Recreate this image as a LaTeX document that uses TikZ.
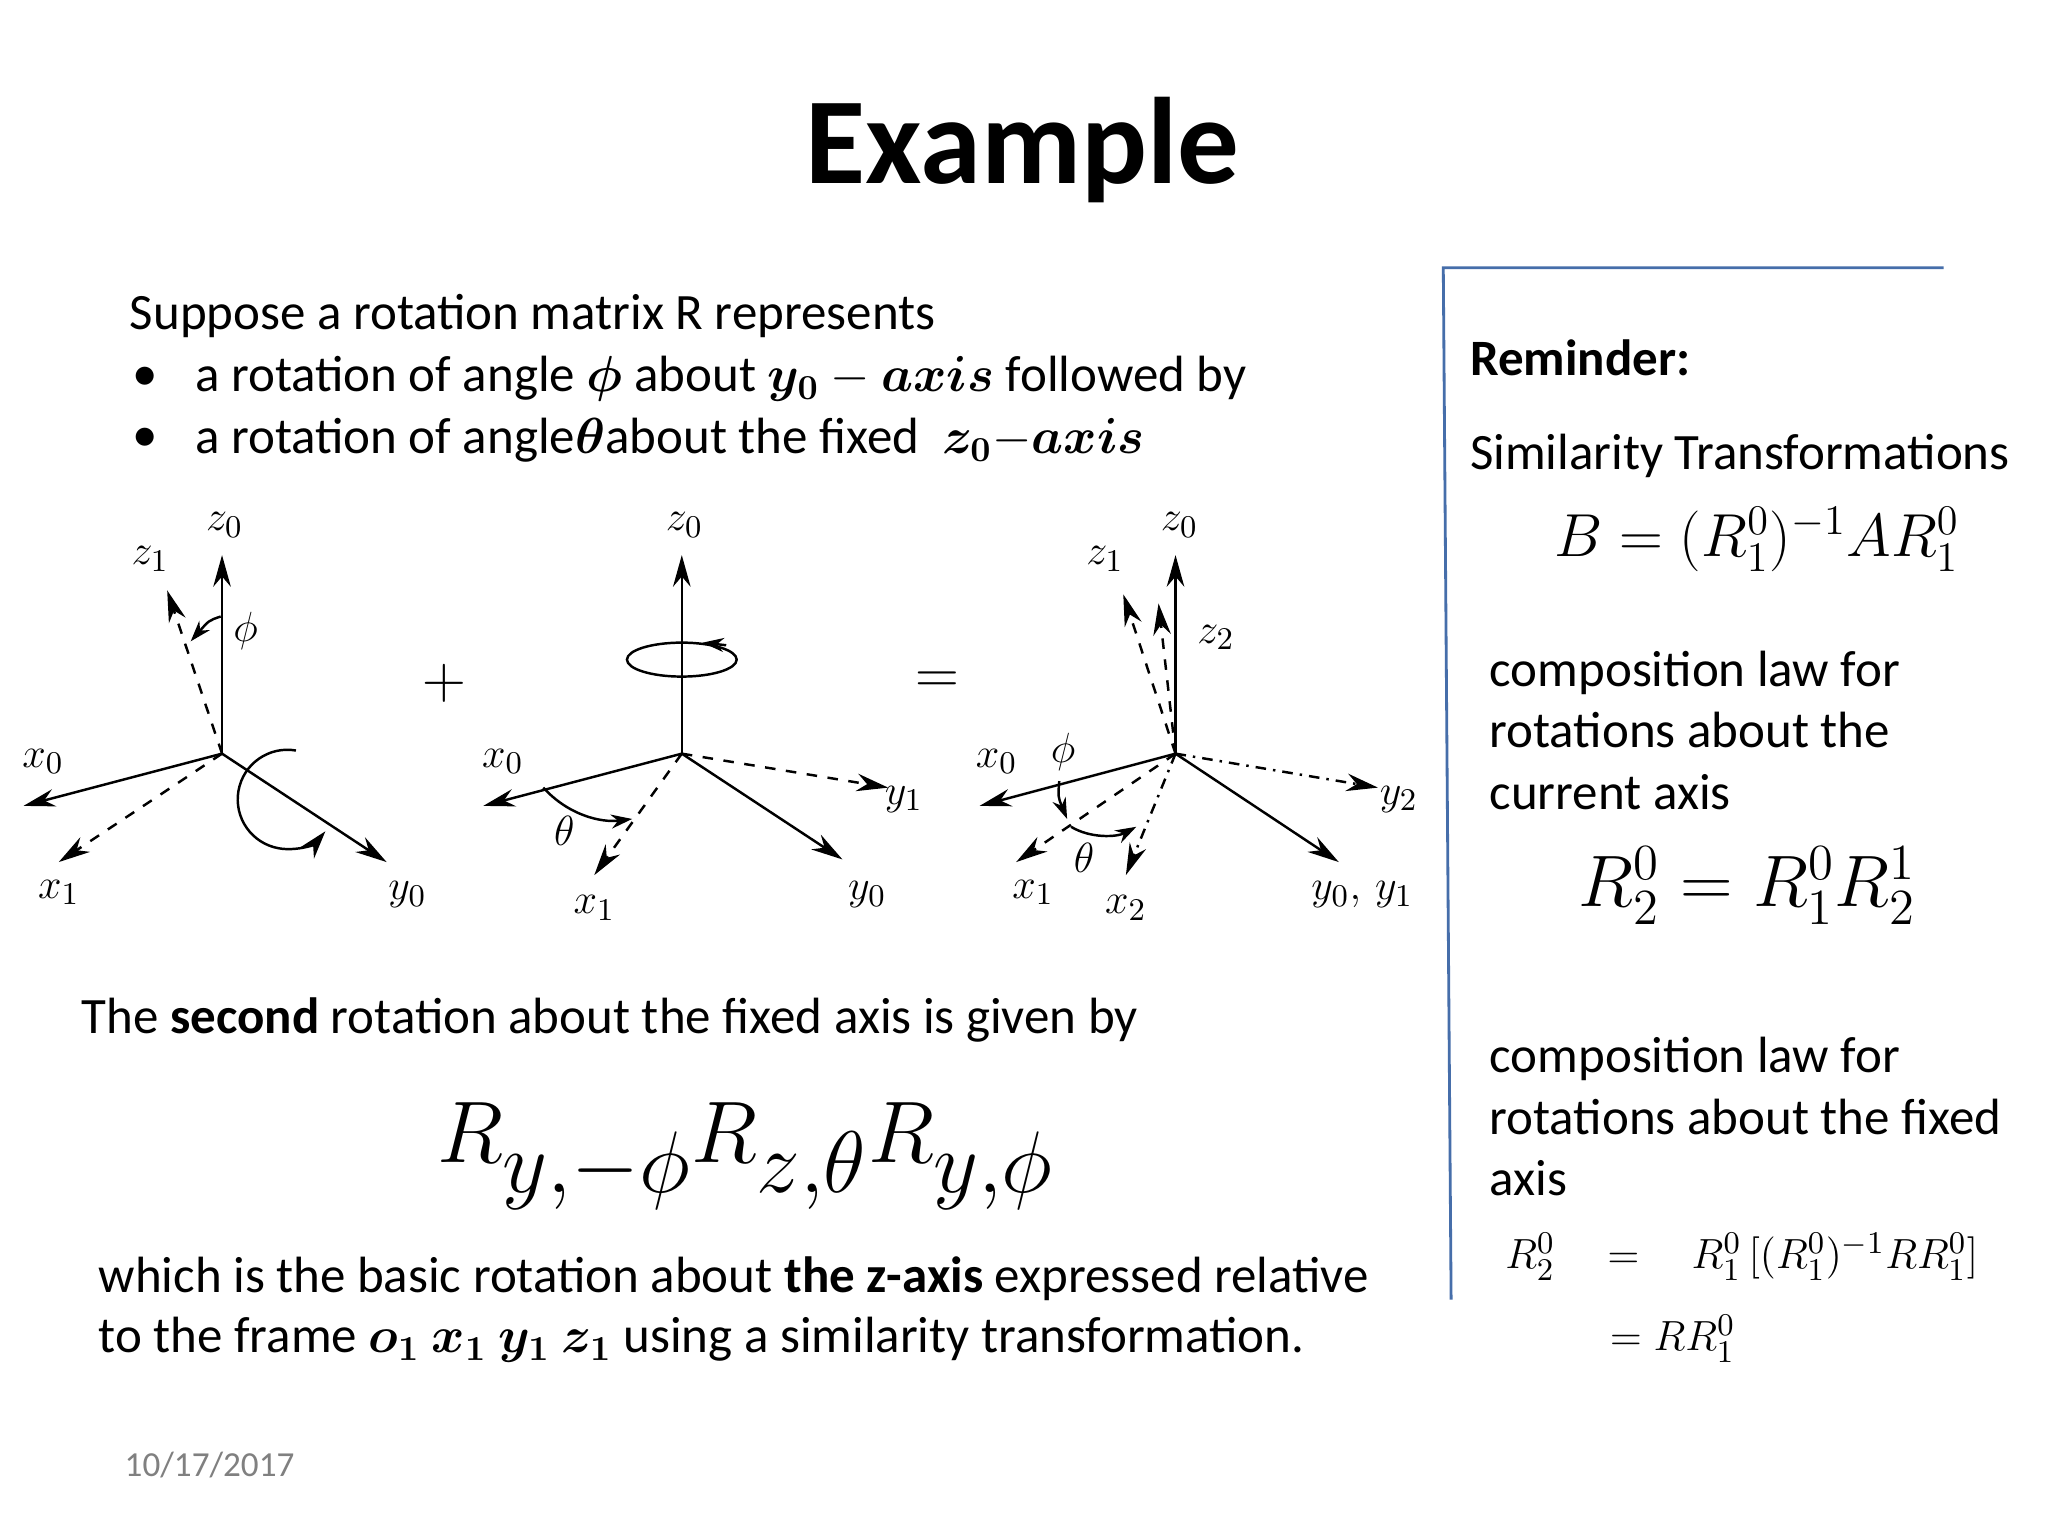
\documentclass[tikz,border=0pt]{standalone}
\usepackage{fontspec}
\usepackage{amsmath}
\setmainfont{Carlito}
\usetikzlibrary{arrows.meta}
\tikzset{
  ax/.style={-{Stealth[length=9pt,width=5pt]},line width=0.7pt},
  dax/.style={ax,dashed},
  ddax/.style={ax,dash dot},
  sarr/.style={line width=0.7pt,-{Stealth[length=6pt,width=4pt]}},
  lab/.style={font=\fontsize{13}{13}\selectfont},
  body/.style={anchor=west,font=\fontsize{14.5}{17}\selectfont},
  bodyml/.style={anchor=west,align=left,font=\fontsize{14.5}{17.5}\selectfont},
}
\begin{document}
\begin{tikzpicture}[x=0.1306mm,y=-0.1306mm]
\useasboundingbox[fill=white] (0,0) rectangle (1568,1176);
\node[font=\fontsize{35}{36}\selectfont\bfseries] (title) at (783,115) {Example};
% left text
\node[body] (t1) at (90,242) {Suppose a rotation matrix R represents};
\node[body] (b1) at (92,290) {•};
\node[body] (t2) at (140,290) {a rotation of angle $\boldsymbol{\phi}$ about $\boldsymbol{y_0}-\boldsymbol{axis}$ followed by};
\node[body] (b2) at (92,337) {•};
\node[body] (t3) at (140,337) {a rotation of angle$\boldsymbol{\theta}$about the fixed \ $\boldsymbol{z_0}{-}\boldsymbol{axis}$};
% right panel
\coordinate (p1) at (1488,205); \coordinate (p2) at (1105,205); \coordinate (p3) at (1111,995);
\draw[color={rgb,255:red,70;green,110;blue,170},line width=0.8pt] (p1)--(p2)--(p3);
\node[body,font=\fontsize{14.5}{17}\selectfont\bfseries] (rem) at (1116,274) {Reminder:};
\node[body] (sim) at (1116,349) {Similarity Transformations};
\node[font=\fontsize{18.4}{19}\selectfont] (f1) at (1345,413) {$B=(R^0_1)^{-1}AR^0_1$};
\node[bodyml] (c1) at (1131,559) {composition law for\\rotations about the\\current axis};
\node[font=\fontsize{19.8}{20}\selectfont] (f2) at (1338,678) {$R^0_2=R^0_1R^1_2$};
\node[bodyml] (c2) at (1131,855) {composition law for\\rotations about the fixed\\axis};
\node[anchor=west,inner sep=0pt,font=\fontsize{12.8}{13}\selectfont] (f3) at (1152,962) {$R^0_2\hspace{0.9em}=\hspace{0.9em}R^0_1\,[(R^0_1)^{-1}RR^0_1]$};
\node[anchor=west,inner sep=0pt,font=\fontsize{12.8}{13}\selectfont] (f4) at (1232,1025) {$=RR^0_1$};
% bottom text
\node[body] (s1) at (53,781) {The \textbf{second} rotation about the fixed axis is given by};
\node[font=\fontsize{33.4}{34}\selectfont] (big) at (571,885) {$R_{y,-\phi}R_{z,\theta}R_{y,\phi}$};
\node[body] (w1) at (66,979) {which is the basic rotation about \textbf{the z-axis} expressed relative};
\node[body] (w2) at (66,1026) {to the frame $\boldsymbol{o_1\ x_1\ y_1\ z_1}$ using a similarity transformation.};
\node[anchor=west,text=gray,font=\fontsize{10}{11}\selectfont] (date) at (86,1122) {10/17/2017};
% diagram 1
\coordinate (o1) at (170,577);
\coordinate (a1z0) at (170,425); \coordinate (a1z1) at (128,452);
\coordinate (a1x0) at (18,617); \coordinate (a1x1) at (45,660); \coordinate (a1y0) at (296,660);
\draw[ax] (o1)--(a1z0); \draw[dax] (o1)--(a1z1); \draw[ax] (o1)--(a1x0);
\draw[dax] (o1)--(a1x1); \draw[ax] (o1)--(a1y0);
\draw[sarr] (169,472) .. controls (160,475) .. (146,491);
\draw[ax,-{Stealth[length=8pt,width=5pt]}] (226.6,574.6) arc[start angle=-80,end angle=-320,radius=38];
\node[lab] (l1z0) at (172,402) {$z_0$}; \node[lab] (l1z1) at (115,428) {$z_1$};
\node[lab] (l1p) at (188,483) {$\phi$}; \node[lab] (l1x0) at (33,583) {$x_0$};
\node[lab] (l1x1) at (45,683) {$x_1$}; \node[lab] (l1y0) at (312,685) {$y_0$};
\node[font=\fontsize{18}{18}\selectfont] (plus) at (340,523) {$+$};
% diagram 2
\coordinate (o2) at (522,577);
\coordinate (a2z0) at (522,425); \coordinate (a2x0) at (370,617); \coordinate (a2x1) at (455,670);
\coordinate (a2y1) at (680,603); \coordinate (a2y0) at (645,658);
\draw[ax] (o2)--(a2z0); \draw[ax] (o2)--(a2x0); \draw[dax] (o2)--(a2x1);
\draw[dax] (o2)--(a2y1); \draw[ax] (o2)--(a2y0);
\draw[line width=0.7pt] (522,505) ellipse[x radius=42,y radius=13];
\draw[sarr] (556,494)--(538,492);
\draw[sarr] (416,603) .. controls (435,624) and (460,630) .. (484,627);
\node[lab] (l2z0) at (524,402) {$z_0$}; \node[lab] (l2x0) at (385,583) {$x_0$};
\node[lab] (l2t) at (432,636) {$\theta$}; \node[lab] (l2x1) at (455,695) {$x_1$};
\node[lab] (l2y1) at (692,612) {$y_1$}; \node[lab] (l2y0) at (664,685) {$y_0$};
\node[font=\fontsize{18}{18}\selectfont] (eq) at (718,523) {$=$};
% diagram 3
\coordinate (o3) at (900,577);
\coordinate (a3z0) at (900,425); \coordinate (a3z1) at (860,455); \coordinate (a3z2) at (887,462);
\coordinate (a3x0) at (750,617); \coordinate (a3x1) at (778,660); \coordinate (a3x2) at (862,670);
\coordinate (a3y2) at (1055,603); \coordinate (a3y0) at (1025,660);
\draw[ax] (o3)--(a3z0); \draw[dax] (o3)--(a3z1); \draw[dax] (o3)--(a3z2);
\draw[ax] (o3)--(a3x0); \draw[dax] (o3)--(a3x1); \draw[ddax] (o3)--(a3x2);
\draw[ddax] (o3)--(a3y2); \draw[ax] (o3)--(a3y0);
\draw[sarr] (811,598) .. controls (810,610) .. (817,627);
\draw[sarr] (820,633) .. controls (835,642) and (855,641) .. (870,633);
\node[lab] (l3z0) at (903,402) {$z_0$}; \node[lab] (l3z1) at (846,428) {$z_1$};
\node[lab] (l3z2) at (931,488) {$z_2$}; \node[lab] (l3x0) at (763,583) {$x_0$};
\node[lab] (l3p) at (814,576) {$\phi$}; \node[lab] (l3t) at (830,657) {$\theta$};
\node[lab] (l3x1) at (791,683) {$x_1$}; \node[lab] (l3x2) at (862,695) {$x_2$};
\node[lab] (l3y2) at (1071,612) {$y_2$}; \node[lab] (l3y0) at (1043,685) {$y_0,\,y_1$};
\end{tikzpicture}
\end{document}
